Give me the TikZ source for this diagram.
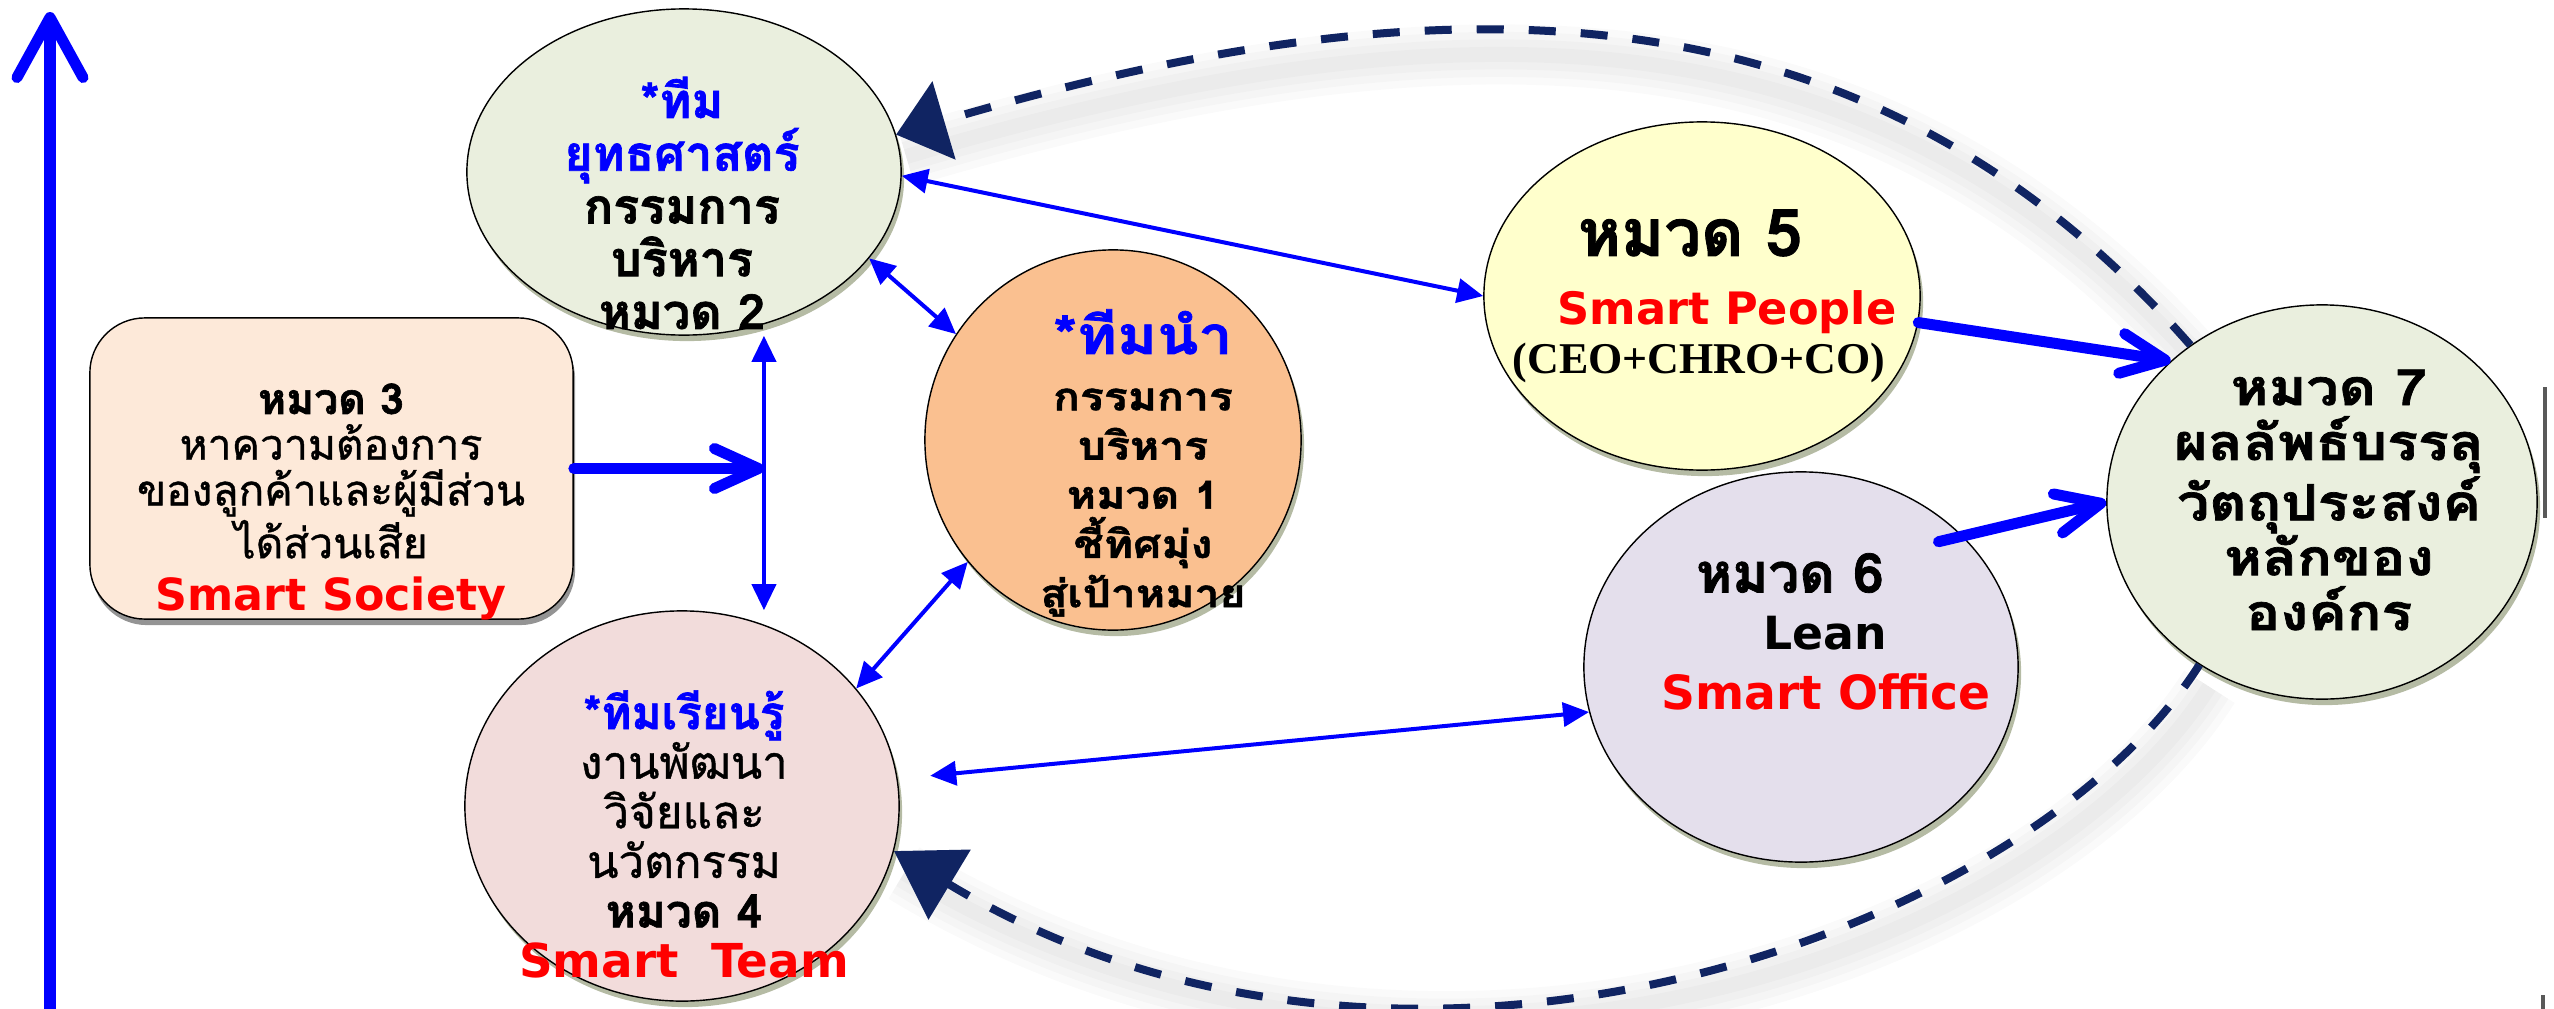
\documentclass[tikz,border=0pt]{standalone}
\usepackage{fontspec}
\setmainfont{DejaVu Sans}
\newfontfamily\thai[Script=Thai, BoldFeatures={FakeBold=1.4}]{Loma}
\newfontfamily\thaimid[Script=Thai, FakeBold=0.9]{Loma}
\newfontfamily\thaiwide[Script=Thai, FakeStretch=1.15, BoldFeatures={FakeBold=1.4}]{Loma}
\newfontfamily\latin{DejaVu Sans}
\newfontfamily\serifb{Liberation Serif}
\usepackage{xcolor}
\usetikzlibrary{arrows.meta,shapes.geometric,shadows,backgrounds}

\definecolor{navyd}{RGB}{16,36,98}
\definecolor{fillgr}{RGB}{234,239,222}
\definecolor{fillpk}{RGB}{242,220,219}
\definecolor{fillor}{RGB}{250,192,144}
\definecolor{fillyl}{RGB}{255,255,204}
\definecolor{fillla}{RGB}{228,223,236}
\definecolor{fillpe}{RGB}{253,233,217}
\definecolor{shadowgr}{RGB}{150,158,125}

\newcommand{\smart}[2]{\textcolor{red}{\latin\bfseries\fontsize{#1}{#1}\selectfont #2}}

\tikzset{
  blob/.style={ellipse, draw=black, line width=0.4pt, inner sep=0pt,
    drop shadow={shadow xshift=0.03cm, shadow yshift=-0.06cm, fill=shadowgr, opacity=0.7}},
  panel/.style={rectangle, rounded corners=0.55cm, draw=black, line width=0.4pt, fill=fillpe,
    inner sep=0pt, minimum width=4.83cm, minimum height=3.01cm,
    drop shadow={shadow xshift=0.02cm, shadow yshift=-0.06cm, fill=black!70, opacity=0.6}},
  words/.style={inner sep=0pt, align=center, font=\thai\bfseries\fontsize{13.8}{15}\selectfont},
  bigarrow/.style={draw=blue, line width=0.11cm, line cap=round,
    -{Straight Barb[length=0.44cm, width=0.40cm, line cap=round, line join=round]}},
  axisarrow/.style={draw=blue, line width=0.11cm,
    -{Straight Barb[length=0.6cm, width=0.66cm, line cap=round, line join=round]}},
  dblarrow/.style={draw=blue, line width=0.04cm,
    {Triangle[length=0.26cm, width=0.24cm]}-{Triangle[length=0.26cm, width=0.24cm]}},
  backflow/.style={draw=navyd, line width=0.08cm, dash pattern=on 0.27cm off 0.25cm,
    -{Triangle[length=#1, width=0.8cm]}},
  backshade/.style={draw=black, opacity=0.018, line width=#1,
    transform canvas={shift={(0.1cm,-0.22cm)}}},
}

\begin{document}
\begin{tikzpicture}[x=0.01cm,y=-0.01cm]
\useasboundingbox (0,0) rectangle (2554,1009);

% the shapes
\node[blob, fill=fillgr, minimum width=4.34cm, minimum height=3.26cm] (e2) at (684,172) {};
\node[panel] (b3) at (331.5,468.5) {};
\node[blob, fill=fillor, minimum width=3.76cm, minimum height=3.80cm] (e1) at (1113,440) {};
\node[blob, fill=fillpk, minimum width=4.34cm, minimum height=3.90cm] (e4) at (682,806) {};
\node[blob, fill=fillyl, minimum width=4.36cm, minimum height=3.48cm] (e5) at (1702,296) {};
\node[blob, fill=fillla, minimum width=4.34cm, minimum height=3.90cm] (e6) at (1801,667) {};
\node[blob, fill=fillgr, minimum width=4.30cm, minimum height=3.94cm] (e7) at (2322,502) {};

% texts
\node[words] (t2) at (682,203) {\textcolor{blue}{*ทีม}\\\textcolor{blue}{ยุทธศาสตร์}\\กรรมการ\\บริหาร\\หมวด 2};
\node[words, font=\thaimid\fontsize{12.1}{13}\selectfont] (t3) at (331,502)
  {{\thai\bfseries หมวด 3}\\หาความต้องการ\\ของลูกค้าและผู้มีส่วน\\ได้ส่วนเสีย\\[2pt]\smart{12.6}{Smart Society}};
\node[words, font=\thaiwide\bfseries\fontsize{11}{14}\selectfont] (t1) at (1143,463)
  {\textcolor{blue}{\fontsize{15}{14}\selectfont *ทีมนำ}\\[2pt]กรรมการ\\บริหาร\\หมวด 1\\ชี้ทิศมุ่ง\\สู่เป้าหมาย};
\node[words, font=\thaimid\fontsize{13}{14.1}\selectfont] (t4) at (684,834)
  {\textcolor{blue}{\thai\bfseries *ทีมเรียนรู้}\\งานพัฒนา\\วิจัยและ\\นวัตกรรม\\{\thai\bfseries หมวด 4}\\\smart{13.3}{Smart\ \ Team}};
\node[words, font=\thai\bfseries\fontsize{18.6}{18}\selectfont] (t5a) at (1690,233) {หมวด 5};
\node[words, font=\latin\bfseries\fontsize{12.7}{13}\selectfont, text=red] (t5b) at (1727,312) {Smart People};
\node[words, font=\serifb\bfseries\fontsize{12.5}{13}\selectfont] (t5c) at (1699,363) {(CEO+CHRO+CO)};
\node[words, font=\thai\bfseries\fontsize{15.6}{15}\selectfont] (t6a) at (1790,573) {หมวด 6};
\node[words, font=\latin\bfseries\fontsize{13}{13}\selectfont] (t6b) at (1825,633) {Lean};
\node[words, font=\latin\bfseries\fontsize{13.4}{13}\selectfont, text=red] (t6c) at (1826,692) {Smart Office};
\node[words, font=\thaiwide\bfseries\fontsize{14.2}{15.6}\selectfont] (t7) at (2329,500)
  {หมวด 7\\ผลลัพธ์บรรลุ\\วัตถุประสงค์\\หลักของ\\องค์กร};

% arrows
\coordinate (axbot) at (50,1009);
\coordinate (axtop) at (50,12);
\draw[axisarrow] (axbot) -- (axtop);
\coordinate (jn) at ([xshift=1.9cm]b3.east);
\draw[bigarrow] (b3.east) -- (jn);
\draw[dblarrow] (jn |- e2.south) -- (jn |- e4.north);
\draw[dblarrow] (e2.-25) -- (e1.146);
\draw[dblarrow] (e4.34) -- (e1.220);
\draw[dblarrow] (e2.-1) -- (e5.180);
\draw[dblarrow] ([xshift=0.33cm]e4.8) -- (e6.192);
\draw[bigarrow] (e5.-7) -- (e7.137);
\draw[bigarrow, shorten <=-0.25cm] (e6.39) -- (e7.180);

% dashed loops back
\draw[backflow=0.5cm] (e7.130) .. controls (1870,-20) and (1453,-30) .. (e2.10);
\draw[backflow=0.65cm] (e7.233) .. controls (2026,938) and (1399,1156) .. (e4.-12);
\begin{scope}[on background layer]
\foreach \w in {0.6cm,0.45cm,0.3cm,0.15cm}{
  \draw[backshade=\w] (e7.130) .. controls (1870,-20) and (1453,-30) .. (e2.10);
  \draw[backshade=\w] (e7.233) .. controls (2026,938) and (1399,1156) .. (e4.-12);
}
\end{scope}

% edge marks
\draw[black!65, line width=0.045cm] (2545,387) -- (2545,518);
\draw[black!65, line width=0.045cm] (2543,995) -- (2543,1009);
\end{tikzpicture}
\end{document}
